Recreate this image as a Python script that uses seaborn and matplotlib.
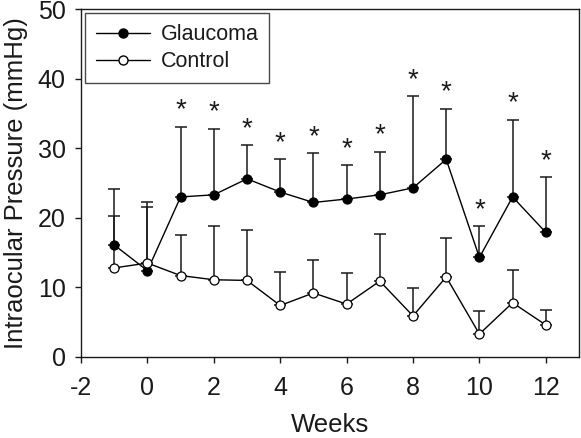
import numpy as np
import pandas as pd
import matplotlib
matplotlib.use("Agg")
import matplotlib.pyplot as plt
import seaborn as sns
from matplotlib.lines import Line2D

# ---- data ----
weeks = [-1, 0, 1, 2, 3, 4, 5, 6, 7, 8, 9, 10, 11, 12]
glaucoma_mean = [16.1, 12.4, 23.0, 23.3, 25.6, 23.7, 22.2, 22.7, 23.3, 24.3, 28.4, 14.3, 23.0, 17.9]
glaucoma_sd = [8.1, 9.8, 10.1, 9.5, 4.8, 4.7, 7.1, 4.9, 6.2, 13.2, 7.3, 4.5, 11.1, 7.9]
control_mean = [12.8, 13.5, 11.7, 11.1, 11.0, 7.4, 9.2, 7.6, 10.9, 5.9, 11.5, 3.3, 7.8, 4.6]
control_sd = [7.4, 8.1, 5.9, 7.7, 7.3, 4.8, 4.7, 4.4, 6.8, 4.0, 5.6, 3.3, 4.7, 2.2]
significant = [False, False, True, True, True, True, True, True, True, True, True, True, True, True]
x_ticks = [-2, 0, 2, 4, 6, 8, 10, 12]
y_ticks = [0, 10, 20, 30, 40, 50]
group_names = ["Glaucoma", "Control"]

sns.set_theme(style="ticks")
plt.rcParams["font.family"] = ["Liberation Sans", "DejaVu Sans"]
plt.rcParams["axes.unicode_minus"] = False
TXT = "#1a1a1a"
MS = 6.5

df = pd.DataFrame({
    "Weeks": weeks * 2,
    "IOP": glaucoma_mean + control_mean,
    "SD": glaucoma_sd + control_sd,
    "Group": [group_names[0]] * len(weeks) + [group_names[1]] * len(weeks),
})

fig = plt.figure(figsize=(5.81, 4.38), dpi=100)
ax = fig.add_axes([81 / 581, 1 - 357 / 438, (579 - 81) / 581, (357 - 9) / 438])

# error bars (upward only)
for name, mean, sd in [(group_names[0], glaucoma_mean, glaucoma_sd),
                       (group_names[1], control_mean, control_sd)]:
    ax.errorbar(weeks, mean, yerr=[np.zeros(len(sd)), sd], fmt="none",
                ecolor="#1a1a1a", elinewidth=1.1, capsize=4, capthick=1.1, zorder=2)

sns.lineplot(data=df, x="Weeks", y="IOP", hue="Group", style="Group",
             palette={"Glaucoma": "black", "Control": "black"},
             markers={"Glaucoma": "o", "Control": "o"},
             dashes={"Glaucoma": "", "Control": ""},
             linewidth=1.0, markersize=MS, ax=ax, legend=False, zorder=3)

line_g = ax.lines[-2]
line_c = ax.lines[-1]
line_g.set_markerfacecolor("black")
line_g.set_markeredgecolor("black")
line_c.set_markerfacecolor("white")
line_c.set_markeredgecolor("black")
line_g.set_markeredgewidth(0.9)
line_c.set_markeredgewidth(0.9)

# asterisks above glaucoma error bars
for w, m, s, sig in zip(weeks, glaucoma_mean, glaucoma_sd, significant):
    if sig:
        ax.annotate("*", xy=(w, m + s), xytext=(0, 6.5), textcoords="offset points",
                    ha="center", va="baseline", fontsize=20, color=TXT)

ax.set_xlim(-2, 13)
ax.set_ylim(0, 50)
ax.set_xticks(x_ticks)
ax.set_yticks(y_ticks)
ax.tick_params(axis="both", direction="out", length=4, width=1, color="#1a1a1a",
               labelsize=18, labelcolor=TXT)
ax.tick_params(axis="x", pad=10)
ax.tick_params(axis="y", pad=7)
for sp in ax.spines.values():
    sp.set_visible(True)
    sp.set_color("#1a1a1a")
    sp.set_linewidth(1.0)

ax.set_xlabel("Weeks", fontsize=18.5, color=TXT, labelpad=9)
ax.set_ylabel("Intraocular Pressure (mmHg)", fontsize=18.5, color=TXT, labelpad=7)

handles = [
    Line2D([], [], color="black", lw=1.0, marker="o", markersize=MS,
           markerfacecolor="black", markeredgecolor="black"),
    Line2D([], [], color="black", lw=1.0, marker="o", markersize=MS,
           markerfacecolor="white", markeredgecolor="black"),
]
leg = ax.legend(handles, group_names, loc="upper left", fontsize=15.5,
                frameon=True, fancybox=False, edgecolor="#1a1a1a",
                handlelength=2.5, handletextpad=0.5, labelspacing=0.28,
                borderaxespad=0.2, borderpad=0.5)
leg.get_frame().set_linewidth(1.0)
for t in leg.get_texts():
    t.set_color(TXT)

fig.savefig("out.png", dpi=100)
